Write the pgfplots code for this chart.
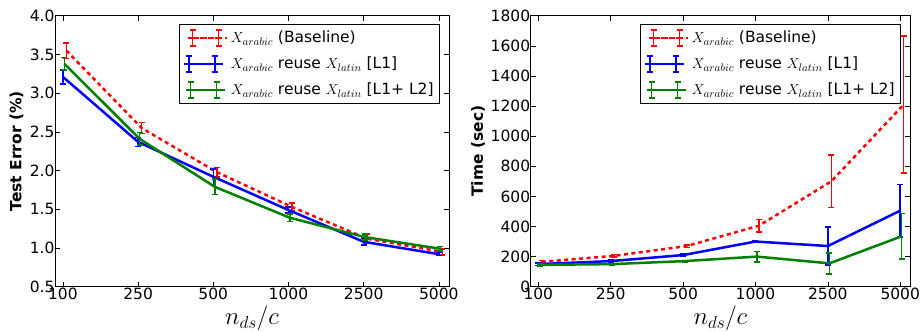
\documentclass[border=0pt]{standalone}
\usepackage{fontspec}
\setmainfont{DejaVu Sans}
\usepackage{pgfplots}
\pgfplotsset{compat=1.18}
\usepackage{pgfplotstable}

\definecolor{mred}{rgb}{1,0,0}
\definecolor{mblue}{rgb}{0,0,1}
\definecolor{mgreen}{rgb}{0,0.5,0}

% Test error (%)
\pgfplotstableread{
x y e
0 3.55 0.10
1 2.55 0.07
2 1.98 0.06
3 1.53 0.05
4 1.12 0.06
5 0.95 0.04
}\errred
\pgfplotstableread{
x y e
0 3.21 0.09
1 2.37 0.06
2 1.92 0.10
3 1.49 0.04
4 1.08 0.04
5 0.92 0.02
}\errblue
\pgfplotstableread{
x y e
0 3.38 0.08
1 2.41 0.08
2 1.79 0.10
3 1.39 0.05
4 1.14 0.04
5 0.99 0.03
}\errgreen
% Time (sec)
\pgfplotstableread{
x y e
0 165 10
1 205 8
2 270 8
3 405 42
4 700 175
5 1210 455
}\timered
\pgfplotstableread{
x y e
0 150 8
1 170 6
2 210 6
3 300 6
4 270 125
5 505 175
}\timeblue
\pgfplotstableread{
x y e
0 145 6
1 150 5
2 170 5
3 200 35
4 155 70
5 335 150
}\timegreen

\pgfplotsset{
  mystyle/.style={
    scale only axis, anchor=south west, height=271pt,
    xmin=-0.105, xmax=5.135,
    xtick={0,...,5}, xticklabels={100,250,500,1000,2500,5000},
    tick align=inside, tick pos=both, major tick length=5pt,
    minor tick num=0,
    tick style={black, line width=0.6pt},
    axis line style={black, line width=0.9pt},
    tick label style={font=\fontsize{15.5}{18}\selectfont},
    xticklabel style={yshift=2pt},
    yticklabel style={xshift=3pt},
    /pgf/number format/assume math mode=true,
    /pgf/number format/1000 sep={},
    xlabel={$n_{ds}/c$},
    xlabel style={font=\fontsize{23}{26}\selectfont, at={(axis description cs:0.5,0)}, anchor=base, yshift=-38pt},
    ylabel style={font=\bfseries\fontsize{15.5}{18}\selectfont, anchor=center},
    legend cell align=left,
    legend style={at={(1,1)}, anchor=north east, xshift=-9pt, yshift=-8pt,
      draw=black, line width=0.8pt, font=\fontsize{15.5}{18}\selectfont,
      row sep=8.5pt, inner xsep=3pt, inner ysep=5pt,
      nodes={inner xsep=3pt}},
    legend image code/.code={
      \path (-5pt,0pt) -- (34pt,0pt);
      \draw[##1] (0pt,0pt) -- (26pt,0pt);
      \draw[##1,solid,line width=1.5pt] (0pt,-8pt)--(0pt,8pt) (26pt,-8pt)--(26pt,8pt)
        (-3pt,-8pt)--(3pt,-8pt) (-3pt,8pt)--(3pt,8pt)
        (23pt,-8pt)--(29pt,-8pt) (23pt,8pt)--(29pt,8pt);
    },
  },
  ser/.style={no marks, line width=2.5pt, color=#1,
    /pgfplots/error bars/y dir=both,
    /pgfplots/error bars/y explicit,
    /pgfplots/error bars/error mark=|,
    /pgfplots/error bars/error bar style={/tikz/solid, /tikz/line width=1.5pt, /tikz/draw=#1, /tikz/color=#1},
    /pgfplots/error bars/error mark options={/tikz/solid, /tikz/line width=1.5pt, /tikz/mark size=3pt, /tikz/draw=#1}},
}

\begin{document}
\begin{tikzpicture}
\useasboundingbox (0pt,0pt) rectangle (922pt,332pt);
\begin{axis}[mystyle, at={(55pt,45.3pt)}, width=394pt,
  ymin=0.5, ymax=4.0, ytick={0.5,1.0,...,4.0},
  yticklabel style={/pgf/number format/.cd, fixed, fixed zerofill, precision=1},
  ylabel={Test Error (\%)},
  ylabel style={at={(axis description cs:-0.0977,0.5)}}]
\addplot[dash pattern=on 4pt off 3.5pt, xshift=3.5pt, ser=mred] table[x=x,y=y,y error=e] {\errred};
\addlegendentry{$X_{arabic}$ (Baseline)}
\addplot[ser=mblue] table[x=x,y=y,y error=e] {\errblue};
\addlegendentry{$X_{arabic}$ reuse $X_{latin}$ [L1]}
\addplot[xshift=1.5pt, ser=mgreen] table[x=x,y=y,y error=e] {\errgreen};
\addlegendentry{$X_{arabic}$ reuse $X_{latin}$ [L1+ L2]}
\end{axis}
\begin{axis}[mystyle, at={(530.7pt,45.3pt)}, width=379.3pt,
  ymin=0, ymax=1800, ytick={0,200,...,1800},
  ylabel={Time (sec)},
  ylabel style={at={(axis description cs:-0.139,0.5)}}]
\addplot[dash pattern=on 4pt off 3.5pt, xshift=3.5pt, ser=mred] table[x=x,y=y,y error=e] {\timered};
\addlegendentry{$X_{arabic}$ (Baseline)}
\addplot[ser=mblue] table[x=x,y=y,y error=e] {\timeblue};
\addlegendentry{$X_{arabic}$ reuse $X_{latin}$ [L1]}
\addplot[xshift=1.5pt, ser=mgreen] table[x=x,y=y,y error=e] {\timegreen};
\addlegendentry{$X_{arabic}$ reuse $X_{latin}$ [L1+ L2]}
\end{axis}
\end{tikzpicture}
\end{document}
